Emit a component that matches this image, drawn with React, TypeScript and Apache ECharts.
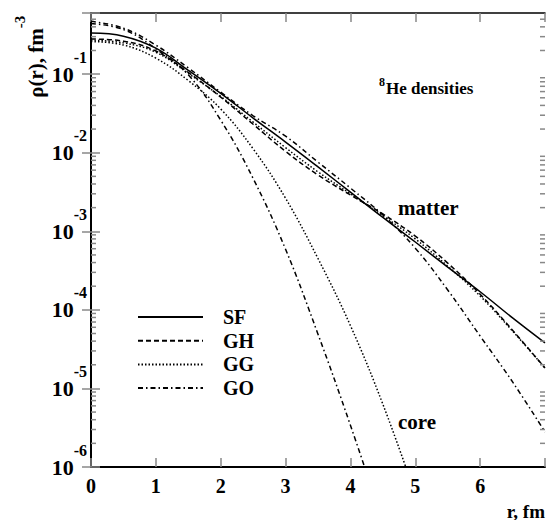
import React, { useEffect, useRef } from 'react';
import * as echarts from 'echarts';

const FONT = '"Liberation Serif", "Times New Roman", serif';

// radius grid (fm)
const R = [0, 0.5, 1, 1.5, 2, 2.5, 3, 3.5, 4, 4.5, 5, 5.5, 6, 6.5, 7];
// matter densities (fm^-3)
const SF = [0.333, 0.304, 0.214, 0.112, 0.057, 0.0276, 0.01365, 0.0066, 0.00315, 0.0015, 0.00073, 0.00035, 0.00017, 0.000079, 0.000038];
const GH = [0.28, 0.263, 0.197, 0.105, 0.051, 0.023, 0.0104, 0.0052, 0.0029, 0.00166, 0.00087, 0.000394, 0.000158, 0.000055, 0.0000182];
const GG = [0.27, 0.25, 0.19, 0.102, 0.052, 0.0245, 0.0116, 0.0057, 0.003, 0.00158, 0.0008, 0.00036, 0.00015, 0.0000537, 0.0000182];
const GO = [0.47, 0.385, 0.234, 0.12, 0.059, 0.0295, 0.01626, 0.00759, 0.00355, 0.00161, 0.00061, 0.000179, 0.0000464, 0.0000121, 0.00000279];
// core densities
const R_CORE_GO = [0, 0.5, 1, 1.5, 2, 2.5, 3, 3.5, 4, 4.5];
const CORE_GO = [0.44, 0.37, 0.21, 0.098, 0.026, 0.0047, 0.00059, 0.000049, 0.0000034, 0.0000002];
const R_CORE_GG = [0, 0.5, 1, 1.5, 2, 2.5, 3, 3.5, 4, 4.5, 5];
const CORE_GG = [0.26, 0.235, 0.16, 0.083, 0.036, 0.0112, 0.00263, 0.00045, 0.000063, 0.0000063, 0.00000045];

const X_MIN = 0;
const X_MAX = 7;
const Y_MIN = 1e-6;
const Y_MAX = 0.6;
const DECADES = [-6, -5, -4, -3, -2, -1];
const MINOR_MANTISSAS = [2, 3, 4, 5, 6, 7, 8, 9];

const LEGEND_NAMES = ['SF', 'GH', 'GG', 'GO'];

const DASHED = [5, 3];
const DOTTED = [1.5, 2];
const DASHDOT = [5, 3, 1.5, 3];

function pairs(xs: number[], ys: number[]) {
  return xs.map((x, i) => [x, ys[i]]);
}

export default function App() {
  const ref = useRef<HTMLDivElement>(null);

  useEffect(() => {
    if (!ref.current) return;
    const chart = echarts.init(ref.current, undefined, { renderer: 'svg' });

    const minorTicks: number[][] = [];
    DECADES.forEach((e) => {
      MINOR_MANTISSAS.forEach((m) => {
        const v = m * Math.pow(10, e);
        if (v < Y_MAX) minorTicks.push([X_MIN, v]);
      });
    });

    const lineSeries = (name: string, data: number[][], type: any) => ({
      name,
      type: 'line',
      data,
      symbol: 'none',
      smooth: 0.4,
      clip: true,
      lineStyle: { color: '#000', width: 1.5, type },
      itemStyle: { color: '#000' },
      emphasis: { disabled: true },
      z: 3,
    });

    const xAxisBase = {
      type: 'value',
      min: X_MIN,
      max: X_MAX,
      interval: 1,
      splitLine: { show: false },
      axisTick: { inside: true, length: 9, lineStyle: { color: '#888', width: 1.5 } },
    };
    const yAxisBase = {
      type: 'log',
      logBase: 10,
      min: Y_MIN,
      max: Y_MAX,
      splitNumber: 6,
      splitLine: { show: false },
      axisTick: { inside: true, length: 9, lineStyle: { color: '#888', width: 1.5 } },
    };

    const boldText = (size: number) => ({
      fontSize: size,
      fontWeight: 'bold',
      fontFamily: FONT,
      fill: '#000',
    });

    const option: any = {
      animation: false,
      backgroundColor: '#fff',
      grid: { left: 91, right: 6, top: 13, bottom: 53 },
      legend: {
        data: LEGEND_NAMES,
        orient: 'vertical',
        left: 137,
        top: 307,
        padding: 0,
        itemWidth: 65,
        itemHeight: 20,
        itemGap: 3.7,
        selectedMode: false,
        itemStyle: { opacity: 0 },
        textStyle: {
          fontSize: 20,
          fontWeight: 'bold',
          fontFamily: FONT,
          color: '#000',
          lineHeight: 20,
          padding: [0, 0, 0, 15],
        },
      },
      xAxis: [
        {
          ...xAxisBase,
          position: 'bottom',
          axisLine: { onZero: false, lineStyle: { color: '#000', width: 2 } },
          axisLabel: {
            margin: 9,
            fontSize: 20,
            fontWeight: 'bold',
            fontFamily: FONT,
            color: '#000',
            formatter: (v: number) => (v === X_MAX ? '' : String(v)),
          },
        },
        {
          ...xAxisBase,
          position: 'top',
          axisLine: { onZero: false, lineStyle: { color: '#000', width: 1.5 } },
          axisLabel: { show: false },
        },
      ],
      yAxis: [
        {
          ...yAxisBase,
          position: 'left',
          axisLine: { lineStyle: { color: '#000', width: 2 } },
          axisLabel: {
            margin: 4,
            color: '#000',
            formatter: (v: number) => {
              const e = Math.log10(v);
              const re = Math.round(e);
              if (Math.abs(e - re) > 1e-6) return '';
              return '{b|10}{s|' + re + '}';
            },
            rich: {
              b: { fontSize: 22, fontWeight: 'bold', fontFamily: FONT, color: '#000', lineHeight: 50, verticalAlign: 'middle' },
              s: { fontSize: 16, fontWeight: 'bold', fontFamily: FONT, color: '#000', lineHeight: 16, verticalAlign: 'top' },
            },
          },
        },
        {
          ...yAxisBase,
          position: 'right',
          axisLine: { lineStyle: { color: '#000', width: 1.5 } },
          axisLabel: { show: false },
        },
      ],
      series: [
        lineSeries('SF', pairs(R, SF), 'solid'),
        lineSeries('GH', pairs(R, GH), DASHED),
        lineSeries('GG', pairs(R, GG), DOTTED),
        lineSeries('GO', pairs(R, GO), DASHDOT),
        lineSeries('GG core', pairs(R_CORE_GG, CORE_GG), DOTTED),
        lineSeries('GO core', pairs(R_CORE_GO, CORE_GO), DASHDOT),
        {
          name: 'minor ticks',
          type: 'custom',
          silent: true,
          clip: false,
          z: 5,
          data: minorTicks,
          encode: { x: 0, y: 1 },
          renderItem: (_params: any, api: any) => {
            const v = api.value(1);
            const l = api.coord([X_MIN, v]);
            const r = api.coord([X_MAX, v]);
            const st = { stroke: '#888', lineWidth: 1.5 };
            return {
              type: 'group',
              children: [
                { type: 'line', shape: { x1: l[0], y1: l[1], x2: l[0] + 5, y2: l[1] }, style: st },
                { type: 'line', shape: { x1: r[0], y1: r[1], x2: r[0] - 5, y2: r[1] }, style: st },
              ],
            };
          },
        },
      ],
      graphic: [
        {
          type: 'text',
          x: 36,
          y: 63,
          rotation: Math.PI / 2,
          style: { text: 'ρ(r), fm', align: 'center', verticalAlign: 'middle', ...boldText(21) },
        },
        {
          type: 'text',
          x: 20,
          y: 22,
          rotation: Math.PI / 2,
          style: { text: '-3', align: 'center', verticalAlign: 'middle', ...boldText(15) },
        },
        {
          type: 'text',
          x: 379,
          y: 82,
          style: { text: '8', align: 'left', verticalAlign: 'middle', ...boldText(12) },
        },
        {
          type: 'text',
          x: 386,
          y: 88,
          style: { text: 'He densities', align: 'left', verticalAlign: 'middle', ...boldText(17) },
        },
        {
          type: 'text',
          x: 398,
          y: 208,
          style: { text: 'matter', align: 'left', verticalAlign: 'middle', ...boldText(21) },
        },
        {
          type: 'text',
          x: 398,
          y: 422,
          style: { text: 'core', align: 'left', verticalAlign: 'middle', ...boldText(21) },
        },
        {
          type: 'text',
          x: 545,
          y: 511,
          style: { text: 'r, fm', align: 'right', verticalAlign: 'middle', ...boldText(19) },
        },
      ],
    };

    chart.setOption(option);
    return () => chart.dispose();
  }, []);

  return (
    <div
      ref={ref}
      style={{ position: 'fixed', left: 0, top: 0, width: 551, height: 520, background: '#fff' }}
    />
  );
}
